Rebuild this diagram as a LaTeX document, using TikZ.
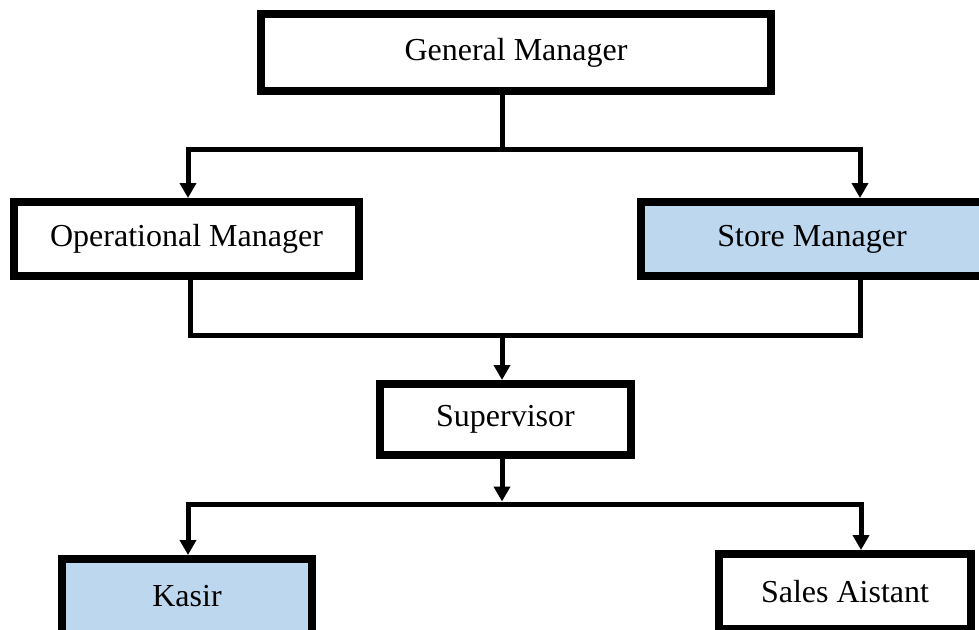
\documentclass[tikz,border=0pt]{standalone}
\usepackage{fontspec}
\setmainfont{Liberation Serif}
\usetikzlibrary{arrows.meta}
\definecolor{boxblue}{HTML}{BDD7EE}
\tikzset{
  orgbox/.style={draw=black, line width=4pt, fill=white, inner sep=0pt,
    font=\fontsize{16}{19}\selectfont, text=black},
  conn/.style={line width=2.5pt, line cap=butt, line join=miter},
  arr/.style={conn, -{Triangle[width=8pt,length=7.5pt]}},
}
\begin{document}
\begin{tikzpicture}[x=0.5pt,y=-0.5pt]
\useasboundingbox (0,0) rectangle (979,629);
\clip (0,0) rectangle (979,629);
\fill[white] (0,0) rectangle (979,629);
% boxes
\node[orgbox, minimum width=255pt, minimum height=38.5pt] (gm) at (516,52.5) {General Manager};
\node[orgbox, minimum width=172.5pt, minimum height=37pt] (om) at (186.5,239) {Operational Manager};
\node[orgbox, fill=boxblue, minimum width=171pt, minimum height=37pt] (sm) at (812,239) {Store Manager};
\node[orgbox, minimum width=125.5pt, minimum height=35.5pt] (sup) at (505.5,419.5) {Supervisor};
\node[orgbox, fill=boxblue, minimum width=125pt, minimum height=37.5pt] (ks) at (187,596.5) {Kasir};
\node[orgbox, minimum width=126pt, minimum height=37.5pt] (sa) at (845,591.5) {Sales Aistant};
% junctions
\coordinate (j1) at (502,149);
\coordinate (j1l) at (188,149);
\coordinate (j1r) at (860,149);
\coordinate (j2l) at (190,335);
\coordinate (j2r) at (860,335);
\coordinate (j2m) at (502,335);
\coordinate (j3) at (502,504);
\coordinate (j3l) at (188,504);
\coordinate (j3r) at (861,504);
% connectors
\draw[conn] (gm.south -| j1) -- (j1);
\draw[conn] ([xshift=-1.25pt]j1l) -- ([xshift=1.25pt]j1r);
\draw[arr] (j1l) -- (j1l |- om.north);
\draw[arr] (j1r) -- (j1r |- sm.north);
\draw[conn] (om.south -| j2l) -- (j2l) -- (j2r) -- (sm.south -| j2r);
\draw[arr] (j2m) -- (j2m |- sup.north);
\draw[arr] (sup.south -| j3) -- ([yshift=1.25pt]j3);
\draw[conn] ([xshift=-1.25pt]j3l) -- ([xshift=1.25pt]j3r);
\draw[arr] (j3l) -- (j3l |- ks.north);
\draw[arr] (j3r) -- (j3r |- sa.north);
\end{tikzpicture}
\end{document}
